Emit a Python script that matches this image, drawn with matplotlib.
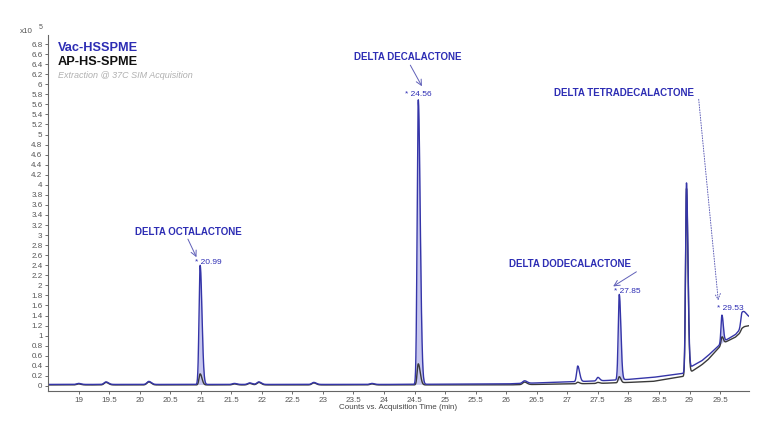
import numpy as np
import matplotlib.pyplot as plt

plt.rcParams['font.family'] = ['Liberation Sans', 'DejaVu Sans']

# chromatogram, counts in units of 1e5
t_start, t_end = 18.5, 29.97

# baseline knots (min, x1e5 counts)
base_t = [18.5, 20.0, 22.0, 24.0, 26.0, 26.5, 27.0, 27.5, 28.0, 28.4, 28.9, 29.05, 29.2, 29.3, 29.55, 29.75, 29.9, 29.97]
vac_base = [0.03, 0.03, 0.03, 0.03, 0.04, 0.06, 0.08, 0.10, 0.13, 0.17, 0.25, 0.40, 0.50, 0.60, 0.88, 1.02, 1.22, 1.30]
ap_base = [0.02, 0.02, 0.02, 0.02, 0.02, 0.03, 0.04, 0.05, 0.07, 0.09, 0.19, 0.30, 0.42, 0.52, 0.85, 0.97, 1.13, 1.18]

# peaks: retention time, height above baseline
peak_rt = [19.0, 19.45, 20.15, 20.99, 21.55, 21.8, 21.95, 22.85, 23.8, 24.56, 26.3, 27.17, 27.5, 27.85, 28.95, 29.53, 29.86]
vac_h = [0.02, 0.05, 0.06, 2.37, 0.02, 0.03, 0.05, 0.04, 0.02, 5.66, 0.05, 0.31, 0.07, 1.70, 3.74, 0.55, 0.30]
ap_h = [0.02, 0.05, 0.06, 0.22, 0.02, 0.03, 0.05, 0.04, 0.02, 0.42, 0.05, 0.03, 0.02, 0.12, 3.70, 0.15, 0.06]
peak_front = [0.03, 0.03, 0.03, 0.018, 0.03, 0.03, 0.03, 0.03, 0.03, 0.018, 0.03, 0.018, 0.02, 0.017, 0.015, 0.015, 0.02]
peak_tail = [0.04, 0.04, 0.04, 0.03, 0.04, 0.04, 0.04, 0.04, 0.04, 0.032, 0.04, 0.03, 0.03, 0.026, 0.024, 0.022, 0.07]

# labelled compounds
cmp_names = ["DELTA OCTALACTONE", "DELTA DECALACTONE", "DELTA DODECALACTONE", "DELTA TETRADECALACTONE"]
cmp_rt = [20.99, 24.56, 27.85, 29.53]

blue = "#3535a8"
txt_blue = "#2d2db4"


def trace(t, base, heights):
    y = np.interp(t, base_t, base)
    for rt, h, sf, st in zip(peak_rt, heights, peak_front, peak_tail):
        s = np.where(t < rt, sf, st)
        y = y + h * np.exp(-0.5 * ((t - rt) / s) ** 2)
    return y


t = np.linspace(t_start, t_end, 6000)
vac = trace(t, vac_base, vac_h)
ap = trace(t, ap_base, ap_h)
vac_bl = np.interp(t, base_t, vac_base)

fig = plt.figure(figsize=(7.68, 4.32), dpi=100)
ax = fig.add_axes([0.0625, 0.095, 0.9125, 0.824])

for rt in cmp_rt:
    m = (t > rt - 0.06) & (t < rt + 0.1)
    ax.fill_between(t[m], vac_bl[m], vac[m], color="#b9b9ec", alpha=0.8, lw=0)

ax.plot(t, ap, color="#3a3a3a", lw=1.0)
ax.plot(t, vac, color=blue, lw=1.0)

ax.set_xlim(t_start, t_end)
ax.set_ylim(-0.1, 6.98)
ax.set_xticks(np.arange(19, 29.6, 0.5))
ax.set_xticklabels([f"{v:g}" for v in np.arange(19, 29.6, 0.5)])
ax.set_yticks(np.arange(0, 6.81, 0.2))
ax.set_yticklabels([f"{round(v, 1):g}" for v in np.arange(0, 6.81, 0.2)])
ax.tick_params(labelsize=5.8, colors="#555555", length=2.5, width=0.6, pad=1.5)
for side in ["top", "right"]:
    ax.spines[side].set_visible(False)
for side in ["left", "bottom"]:
    ax.spines[side].set_color("#666666")
    ax.spines[side].set_linewidth(0.8)
ax.set_xlabel("Counts vs. Acquisition Time (min)", fontsize=5.8, color="#444444", labelpad=0)

fig.text(0.026, 0.928, "x10", fontsize=5.8, color="#555555", ha="left", va="center")
fig.text(0.051, 0.937, "5", fontsize=5, color="#555555", ha="left", va="center")

ax.text(0.014, 0.963, "Vac-HSSPME", transform=ax.transAxes, fontsize=9.2, fontweight="bold",
        color=txt_blue, va="center")
ax.text(0.014, 0.924, "AP-HS-SPME", transform=ax.transAxes, fontsize=9.2, fontweight="bold",
        color="#111111", va="center")
ax.text(0.014, 0.886, "Extraction @ 37C SIM Acquisition", transform=ax.transAxes, fontsize=6.5,
        style="italic", color="#b0b0b0", va="center")

# compound labels, arrows and retention time tags
name_xy = [(20.79, 3.06), (24.39, 6.54), (27.05, 2.43), (27.93, 5.83)]
arrow_from = [(20.79, 2.92), (24.43, 6.38), (28.13, 2.27), (29.15, 5.70)]
arrow_to = [(20.93, 2.56), (24.62, 5.96), (27.75, 1.98), (29.47, 1.70)]
tag_xy = [(21.13, 2.45), (24.56, 5.80), (27.98, 1.87), (29.67, 1.55)]
arrow_style = ["-", "-", "-", ":"]

for name, rt, nxy, a0, a1, txy, ls in zip(cmp_names, cmp_rt, name_xy, arrow_from, arrow_to, tag_xy, arrow_style):
    ax.text(nxy[0], nxy[1], name, fontsize=7, fontweight="bold", color=txt_blue, ha="center", va="center")
    ax.annotate("", xy=a1, xytext=a0,
                arrowprops=dict(arrowstyle="->", color="#6060b8", lw=0.7, ls=ls, shrinkA=0, shrinkB=0))
    ax.text(txy[0], txy[1], f"* {rt:.2f}", fontsize=6, color=txt_blue, ha="center", va="center")

fig.savefig("out.png", dpi=100)
